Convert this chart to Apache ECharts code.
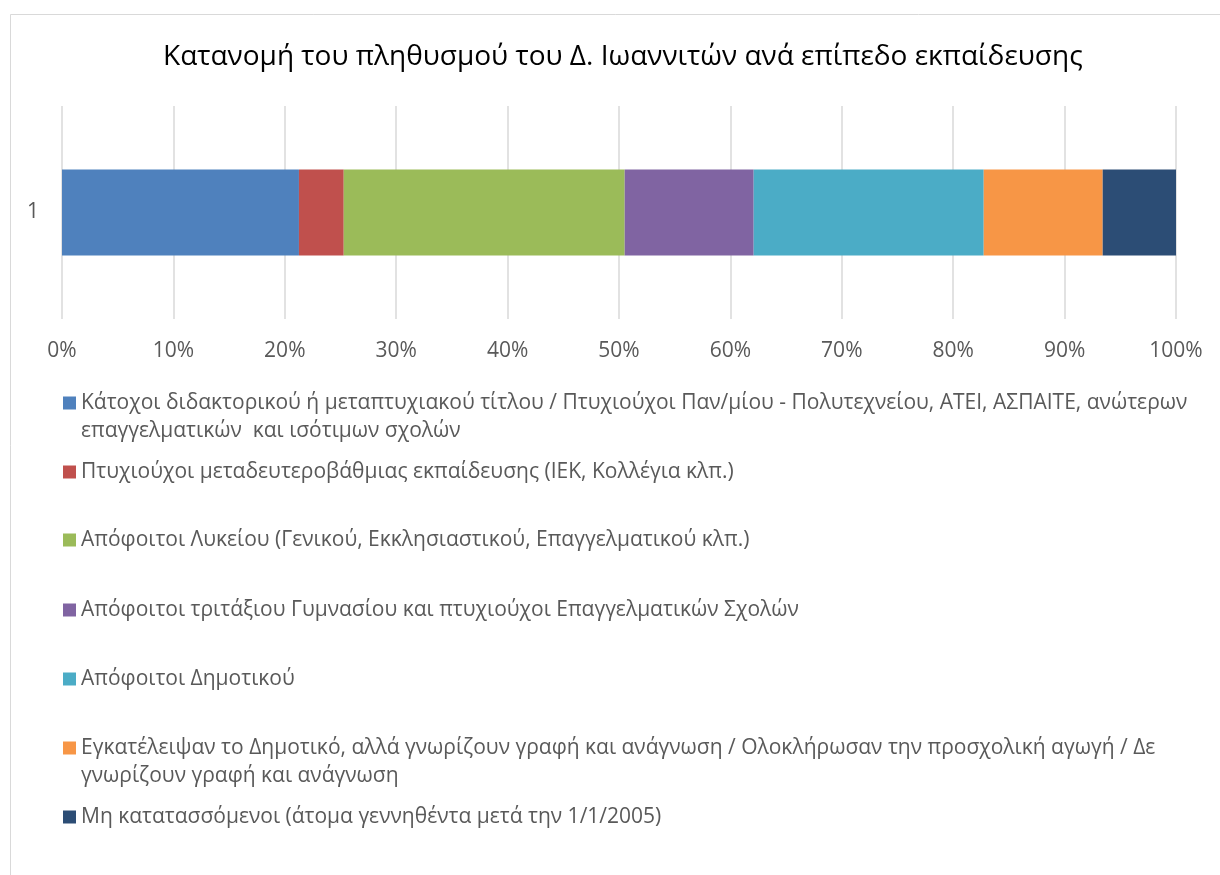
<!DOCTYPE html>
<html>
<head>
<meta charset="utf-8">
<script src="https://cdn.jsdelivr.net/npm/echarts@6/dist/echarts.min.js"></script>
<style>
  html, body { margin: 0; padding: 0; background: #fff; }
  #chart { width: 1220px; height: 875px; }
</style>
</head>
<body>
<div id="chart"></div>
<script>
// Κατανομή πληθυσμού ανά επίπεδο εκπαίδευσης (ποσοστά %, 100% stacked)
const categories = ['1']

const seriesNames = [
  'Κάτοχοι διδακτορικού ή μεταπτυχιακού τίτλου / Πτυχιούχοι Παν/μίου - Πολυτεχνείου, ΑΤΕΙ, ΑΣΠΑΙΤΕ, ανώτερων επαγγελματικών  και ισότιμων σχολών',
  'Πτυχιούχοι μεταδευτεροβάθμιας εκπαίδευσης (ΙΕΚ, Κολλέγια κλπ.)',
  'Απόφοιτοι Λυκείου (Γενικού, Εκκλησιαστικού, Επαγγελματικού κλπ.)',
  'Απόφοιτοι τριτάξιου Γυμνασίου και πτυχιούχοι Επαγγελματικών Σχολών',
  'Απόφοιτοι Δημοτικού',
  'Εγκατέλειψαν το Δημοτικό, αλλά γνωρίζουν γραφή και ανάγνωση / Ολοκλήρωσαν την προσχολική αγωγή / Δε γνωρίζουν γραφή και ανάγνωση',
  'Μη κατατασσόμενοι (άτομα γεννηθέντα μετά την 1/1/2005)',
]

const seriesValues = [21.27, 4.02, 25.22, 11.58, 20.65, 10.68, 6.58]

const seriesColors = ['#4f81bd', '#c0504d', '#9bbb59', '#8064a2', '#4bacc6', '#f79646', '#2c4d75']

// legend rows: center y of the first text line; words kept on the first line (0 = no wrap)
const legendRowY = [403, 472, 540, 610, 679, 748, 817]
const legendFirstLineWords = [13, 0, 0, 0, 0, 15, 0]

const FONT = '"Open Sans", "Noto Sans", sans-serif'
const TEXT_GREY = '#595959'
const LINE_H = 28
const BOX = 13

const chart = echarts.init(document.getElementById('chart'))

function wrapLabel(name, n) {
  if (!n) return name
  const words = name.split(' ')
  return words.slice(0, n).join(' ') + '\n' + words.slice(n).join(' ').trim()
}

const legends = seriesNames.map((name, i) => {
  const twoLines = legendFirstLineWords[i] > 0
  return {
    data: [name],
    orient: 'vertical',
    left: 63,
    top: legendRowY[i] - LINE_H / 2,
    padding: 0,
    selectedMode: false,
    itemWidth: BOX,
    itemHeight: twoLines ? BOX + LINE_H : BOX,
    // tall icon keeps the square next to the first line of wrapped text
    icon: twoLines ? 'path://M0,0H13V13H0Z M0,' + (BOX + LINE_H) : 'rect',
    formatter: (n) => wrapLabel(n, legendFirstLineWords[i]),
    textStyle: {
      fontFamily: FONT,
      fontSize: 21,
      color: TEXT_GREY,
      lineHeight: LINE_H,
    },
  }
})

const option = {
  backgroundColor: '#fff',
  animation: false,
  title: {
    text: 'Κατανομή του πληθυσμού του Δ. Ιωαννιτών ανά επίπεδο εκπαίδευσης',
    left: 163,
    top: 41,
    padding: 0,
    textStyle: { fontFamily: FONT, fontSize: 28, fontWeight: 'normal', color: '#000', lineHeight: 32 },
  },
  legend: legends,
  grid: { left: 62, right: 44, top: 106, bottom: 556, outerBoundsMode: 'none' },
  xAxis: {
    type: 'value',
    min: 0,
    max: 100,
    interval: 10,
    axisLine: { show: false },
    axisTick: { show: false },
    axisLabel: { formatter: '{value}%', fontFamily: FONT, fontSize: 21, color: TEXT_GREY, margin: 22 },
    splitLine: { show: true, lineStyle: { color: '#d9d9d9', width: 1.5 } },
  },
  yAxis: {
    type: 'category',
    data: categories,
    axisLine: { show: false },
    axisTick: { show: false },
    axisLabel: { fontFamily: FONT, fontSize: 21, color: TEXT_GREY, margin: 23 },
  },
  graphic: [
    {
      type: 'rect',
      shape: { x: 10.5, y: 14.5, width: 1300, height: 1000 },
      style: { fill: 'none', stroke: '#d9d9d9', lineWidth: 1 },
      silent: true,
      z: -1,
    },
  ],
  series: seriesNames.map((name, i) => ({
    name,
    type: 'bar',
    stack: 'total',
    barWidth: 86,
    itemStyle: { color: seriesColors[i] },
    data: [seriesValues[i]],
  })),
}

chart.setOption(option)
</script>
</body>
</html>
